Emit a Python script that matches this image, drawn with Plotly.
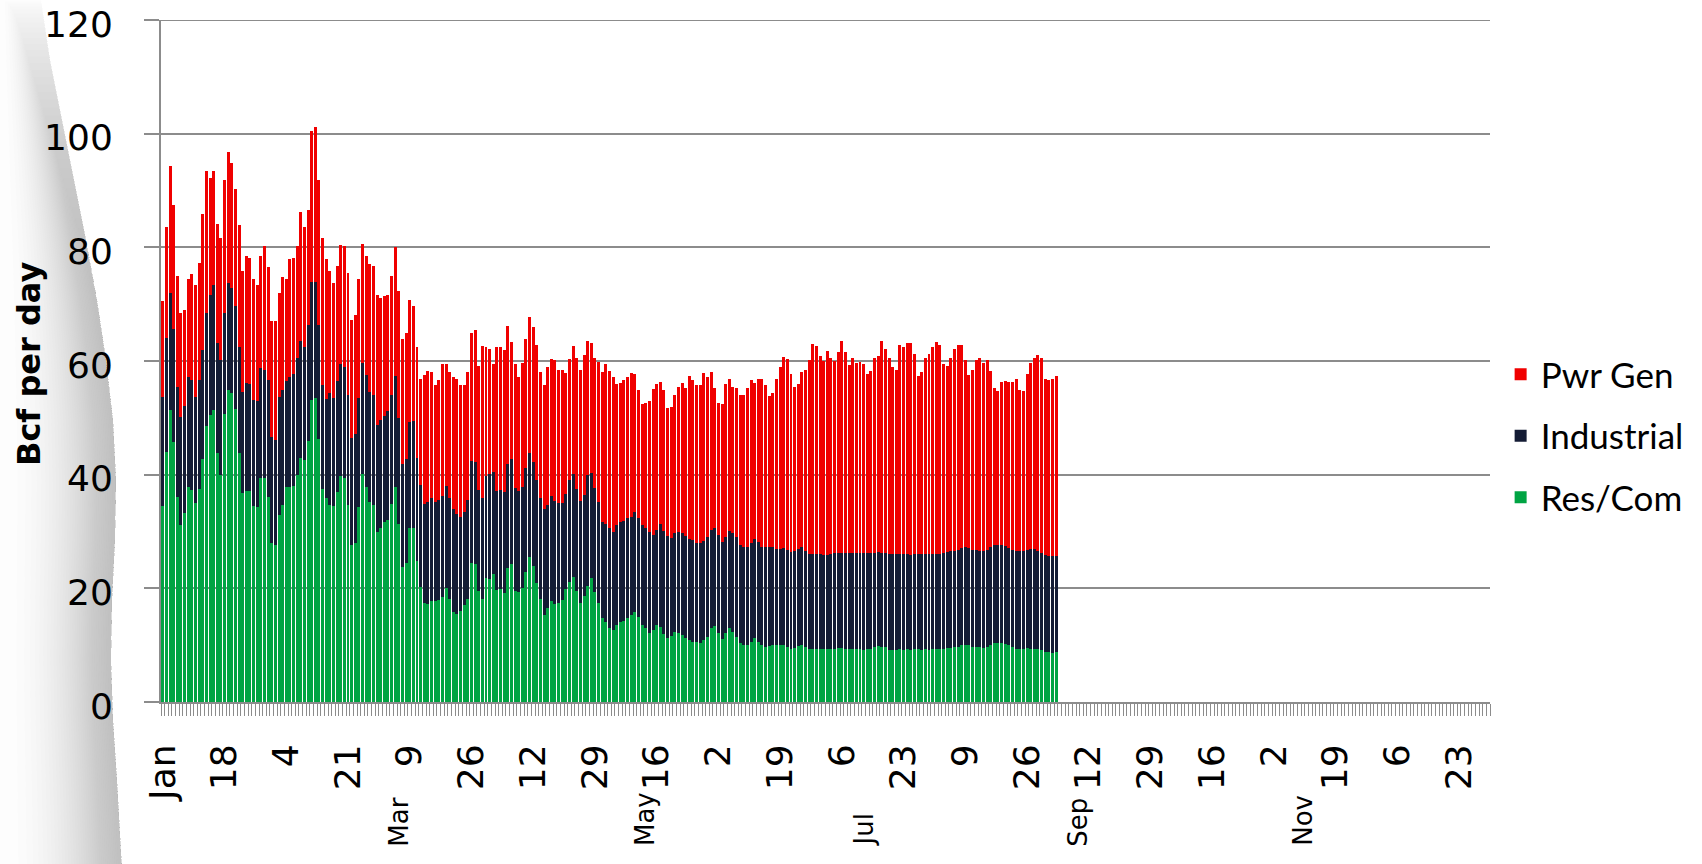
import pandas as pd
import plotly.graph_objects as go

# ---------------- data (Bcf per day, daily, 2012) ----------------
start_date = "2012-01-01"

res_com = [
    34.5, 44.0, 51.4, 45.8, 36.1, 31.2, 33.2, 37.9, 37.3, 35.0,
    37.4, 42.7, 48.5, 50.5, 51.4, 43.8, 40.0, 50.7, 54.9, 54.4,
    51.5, 43.8, 36.8, 37.1, 37.1, 34.5, 34.3, 39.4, 39.4, 36.1,
    27.9, 27.6, 32.9, 34.6, 37.9, 37.9, 38.0, 40.0, 43.0, 42.6,
    46.0, 53.2, 53.5, 46.2, 37.5, 35.9, 34.7, 34.5, 36.9, 39.8,
    39.4, 34.7, 27.7, 28.0, 34.3, 40.1, 37.9, 35.2, 34.6, 30.0,
    30.7, 31.6, 32.1, 34.8, 37.9, 31.3, 23.8, 24.5, 30.6, 30.7,
    24.8, 20.3, 17.5, 17.3, 17.8, 17.8, 18.0, 18.5, 20.0, 18.2,
    15.8, 15.4, 16.1, 17.1, 18.2, 24.5, 24.3, 19.5, 18.2, 21.9,
    21.6, 22.6, 19.7, 19.9, 19.2, 23.6, 24.3, 19.5, 19.4, 20.0,
    22.9, 25.6, 24.0, 20.9, 18.1, 15.3, 16.5, 17.7, 17.3, 17.4,
    17.9, 19.8, 21.2, 22.0, 19.5, 17.5, 18.6, 20.4, 21.8, 19.3,
    17.4, 14.7, 14.0, 13.1, 12.7, 13.6, 14.0, 14.3, 14.7, 15.3,
    15.9, 15.0, 13.6, 13.0, 12.1, 12.7, 13.6, 13.2, 12.0, 11.2,
    11.6, 12.4, 12.1, 11.8, 11.2, 10.9, 10.6, 10.6, 10.4, 10.9,
    11.5, 13.0, 13.3, 12.1, 11.0, 12.1, 13.0, 12.4, 11.5, 10.4,
    10.0, 10.0, 10.6, 11.3, 10.6, 10.0, 9.7, 9.9, 10.0, 10.1,
    10.1, 10.0, 9.7, 9.4, 9.5, 9.9, 10.0, 9.7, 9.4, 9.4,
    9.4, 9.3, 9.3, 9.3, 9.4, 9.4, 9.5, 9.5, 9.4, 9.4,
    9.4, 9.3, 9.3, 9.1, 9.3, 9.4, 9.7, 9.8, 9.7, 9.6,
    9.2, 9.1, 9.1, 9.3, 9.2, 9.3, 9.2, 9.3, 9.3, 9.2,
    9.3, 9.2, 9.3, 9.3, 9.4, 9.4, 9.5, 9.5, 9.6, 9.7,
    10.0, 10.1, 10.0, 9.7, 9.6, 9.6, 9.5, 9.6, 10.0, 10.3,
    10.4, 10.4, 10.2, 10.0, 9.6, 9.4, 9.4, 9.4, 9.5, 9.4,
    9.3, 9.3, 9.1, 8.8, 8.8, 8.7, 8.8,
]

industrial = [
    19.2, 20.0, 20.5, 19.9, 19.4, 19.0, 18.8, 19.2, 19.4, 18.7,
    19.3, 19.2, 19.9, 21.1, 22.0, 19.3, 20.2, 17.7, 18.8, 18.4,
    18.1, 18.7, 17.8, 19.0, 18.9, 18.6, 18.7, 19.3, 19.0, 20.6,
    18.8, 18.5, 20.8, 20.3, 18.5, 19.3, 19.8, 20.5, 20.5, 19.9,
    20.3, 20.7, 20.4, 20.1, 18.3, 17.5, 19.6, 19.0, 19.5, 19.7,
    19.6, 19.4, 18.7, 19.1, 19.2, 19.6, 19.6, 19.4, 19.4, 18.8,
    18.9, 18.7, 19.1, 19.2, 19.5, 18.6, 18.1, 18.3, 18.7, 18.7,
    18.2, 17.9, 17.3, 17.9, 18.1, 17.4, 17.5, 17.7, 18.0, 17.7,
    18.1, 17.7, 16.5, 16.4, 17.3, 17.9, 18.0, 17.8, 17.7, 17.9,
    18.5, 17.8, 17.5, 17.4, 17.8, 18.3, 18.4, 18.1, 17.8, 17.9,
    18.2, 18.3, 18.2, 18.2, 17.8, 18.7, 18.2, 18.6, 18.0, 17.6,
    17.2, 16.8, 17.9, 18.1, 18.0, 17.8, 17.8, 19.5, 18.5, 18.4,
    17.8, 17.0, 17.3, 17.6, 17.2, 17.5, 17.7, 17.6, 17.6, 17.3,
    17.6, 17.3, 17.5, 17.7, 17.9, 16.6, 16.7, 18.1, 18.1, 18.0,
    17.2, 17.4, 17.8, 18.0, 18.0, 17.7, 17.9, 17.3, 17.5, 17.5,
    17.5, 17.3, 17.4, 17.2, 17.2, 17.0, 17.1, 17.3, 17.5, 17.2,
    17.2, 17.2, 17.3, 17.3, 17.6, 17.3, 17.5, 17.3, 17.2, 16.9,
    16.8, 17.1, 17.1, 17.0, 17.0, 17.0, 17.2, 16.8, 16.7, 16.7,
    16.7, 16.7, 16.6, 16.6, 16.7, 16.8, 16.7, 16.7, 16.8, 16.9,
    16.9, 16.9, 17.0, 17.2, 16.9, 16.8, 16.6, 16.6, 16.6, 16.6,
    16.9, 16.9, 17.0, 16.7, 16.8, 16.7, 16.7, 16.7, 16.7, 16.9,
    16.7, 16.8, 16.8, 16.7, 16.7, 16.8, 16.9, 17.0, 17.0, 17.1,
    17.1, 17.1, 17.1, 17.1, 17.1, 17.0, 17.1, 17.2, 17.2, 17.3,
    17.3, 17.2, 17.2, 17.1, 17.1, 17.2, 17.2, 17.2, 17.2, 17.5,
    17.6, 17.3, 17.1, 17.0, 16.9, 17.0, 16.9,
]

pwr_gen = [
    16.8, 19.6, 22.4, 21.7, 19.5, 18.3, 17.0, 17.4, 18.6, 19.6,
    20.5, 23.9, 25.0, 20.6, 20.0, 21.0, 21.5, 23.5, 23.1, 22.1,
    20.6, 21.5, 21.3, 22.4, 22.2, 21.3, 20.3, 19.7, 21.8, 19.9,
    20.3, 20.9, 18.3, 19.8, 18.0, 20.8, 20.4, 19.8, 22.8, 21.0,
    20.3, 26.5, 27.2, 25.6, 25.9, 24.6, 21.6, 20.2, 20.4, 20.9,
    21.2, 21.3, 20.9, 21.0, 20.9, 20.8, 20.9, 22.5, 22.7, 22.9,
    21.4, 21.2, 20.5, 21.0, 22.6, 22.5, 22.0, 22.1, 21.4, 20.3,
    19.4, 18.7, 22.7, 23.1, 22.2, 20.6, 21.2, 23.2, 21.5, 22.1,
    23.2, 23.7, 23.2, 22.3, 22.6, 22.5, 23.1, 21.8, 26.8, 22.6,
    22.1, 19.1, 25.2, 25.1, 25.0, 24.2, 20.7, 21.9, 19.9, 21.7,
    22.8, 23.8, 23.8, 23.7, 22.2, 21.7, 24.2, 24.0, 24.9, 23.5,
    23.4, 21.3, 21.2, 22.6, 23.1, 23.2, 24.6, 23.6, 22.8, 22.9,
    24.7, 26.4, 28.1, 27.5, 27.2, 24.8, 24.5, 24.7, 24.8, 25.3,
    24.3, 22.6, 21.4, 21.9, 23.0, 25.7, 25.7, 25.0, 24.8, 22.6,
    23.1, 24.3, 25.6, 26.4, 26.1, 28.8, 28.2, 27.9, 27.9, 29.5,
    28.2, 27.7, 24.5, 23.3, 24.3, 26.8, 26.8, 25.7, 26.2, 26.4,
    26.8, 28.0, 28.8, 27.5, 28.7, 29.6, 28.6, 26.7, 27.2, 29.8,
    32.1, 33.6, 33.5, 31.4, 28.9, 29.0, 30.9, 32.0, 34.0, 36.9,
    36.6, 34.9, 34.1, 35.9, 34.4, 33.8, 35.3, 37.3, 35.4, 33.0,
    34.2, 33.5, 33.6, 33.1, 31.6, 32.0, 34.3, 34.5, 37.2, 36.0,
    34.5, 32.9, 32.3, 36.8, 36.4, 37.1, 37.3, 35.2, 31.4, 32.0,
    34.6, 35.2, 36.3, 37.3, 36.8, 33.3, 32.7, 34.1, 35.6, 36.1,
    35.8, 33.0, 30.4, 31.6, 33.4, 33.9, 33.0, 33.3, 31.0, 27.7,
    27.0, 28.7, 29.1, 29.2, 29.6, 30.2, 28.3, 28.1, 31.0, 32.7,
    33.7, 34.5, 34.4, 31.0, 31.0, 31.2, 31.7,
]

tick_dates = [
    "2012-01-01", "2012-01-18", "2012-02-04", "2012-02-21", "2012-03-09",
    "2012-03-26", "2012-04-12", "2012-04-29", "2012-05-16", "2012-06-02",
    "2012-06-19", "2012-07-06", "2012-07-23", "2012-08-09", "2012-08-26",
    "2012-09-12", "2012-09-29", "2012-10-16", "2012-11-02", "2012-11-19",
    "2012-12-06", "2012-12-23",
]
tick_labels = ["Jan", "18", "4", "21", "9", "26", "12", "29", "16", "2", "19",
               "6", "23", "9", "26", "12", "29", "16", "2", "19", "6", "23"]

month_labels = ["Mar", "May", "Jul", "Sep", "Nov"]
month_label_dates = ["2012-03-06", "2012-05-13", "2012-07-12", "2012-09-09", "2012-11-10"]

series_names = ["Res/Com", "Industrial", "Pwr Gen"]
series_colors = ["#00a443", "#141c35", "#f00000"]
legend_ranks = [3, 2, 1]

days = pd.date_range(start_date, periods=len(res_com), freq="D")

# ---------------- figure ----------------
W, H = 1702, 864
ML, MT = 161, 20
MR = W - 1490
MB = H - 702
PW, PH = W - ML - MR, H - MT - MB

fig = go.Figure()
for name, vals, col, rk in zip(series_names, [res_com, industrial, pwr_gen],
                               series_colors, legend_ranks):
    fig.add_trace(go.Bar(
        x=days, y=vals, name=name, legendgroup=name, legendrank=rk,
        marker=dict(color=col, line=dict(width=0)),
        hovertemplate="%{x|%b %d}: %{y:.1f}<extra>" + name + "</extra>",
    ))

# month labels (second level of the category axis)
for lab, d in zip(month_labels, month_label_dates):
    fig.add_annotation(
        x=d, xref="x", y=-0.2145, yref="paper", text=lab, showarrow=False,
        textangle=-90, yanchor="bottom", xanchor="center",
        font=dict(family="DejaVu Sans", size=26, color="#000000"),
    )

def px2paper(px, py):
    """page pixel -> paper coordinates"""
    return (px - ML) / PW, (H - MB - py) / PH

# y axis title
tx, ty = px2paper(29, 364)
fig.add_annotation(
    x=tx, xref="paper", y=ty, yref="paper",
    text="<b>Bcf per day</b>", showarrow=False, textangle=-90,
    xanchor="center", yanchor="middle",
    font=dict(family="DejaVu Sans", size=32, color="#000000"),
)

# top gridline (at the plot edge)
fig.add_shape(type="line", xref="paper", x0=0, x1=1, yref="y", y0=120, y1=120,
              line=dict(color="#8c8c8c", width=2), layer="below")

# decorative grey swoosh at left edge (background)
edge = [(0, 41), (60, 50), (120, 62), (180, 74), (240, 86),
        (300, 97), (360, 106), (420, 113), (480, 116), (540, 115),
        (600, 112), (660, 111), (720, 113), (780, 117), (870, 122)]
NB = 36
for k in range(NB):
    s = (k / NB) ** 0.5
    y_start = 0 + 260 * (k / NB) ** 1.5
    top_rx = edge[0][1]
    for (py0, rx0), (py1, rx1) in zip(edge[:-1], edge[1:]):
        if py0 <= y_start <= py1:
            t = (y_start - py0) / (py1 - py0)
            top_rx = rx0 + t * (rx1 - rx0)
            break
    pts_l = [(top_rx * s - 2, y_start)] + \
            [(rx * s - 2, py) for py, rx in edge if py > y_start]
    pts_r = [(rx, py) for py, rx in edge if py > y_start][::-1] + [(top_rx, y_start)]
    pts = [px2paper(x, y) for x, y in pts_l + pts_r]
    path = "M " + " L ".join(f"{x:.5f},{y:.5f}" for x, y in pts) + " Z"
    fig.add_shape(type="path", path=path, xref="paper", yref="paper",
                  fillcolor="#85878c", opacity=0.021, line=dict(width=0),
                  layer="below")

axis_grey = "#8c8c8c"
fig.update_layout(
    width=W, height=H,
    margin=dict(l=ML, r=MR, t=MT, b=MB, autoexpand=False),
    paper_bgcolor="white", plot_bgcolor="rgba(0,0,0,0)",
    barmode="stack", bargap=0.18,
    font=dict(family="DejaVu Sans", color="#000000"),
    showlegend=True,
    legend=dict(
        x=1.008, xanchor="left", y=0.39, yanchor="middle",
        traceorder="grouped", tracegroupgap=13,
        font=dict(family="Lato", size=35, color="#000000"),
        bgcolor="rgba(0,0,0,0)",
    ),
    xaxis=dict(
        type="date", automargin=False,
        range=["2011-12-31 12:00", "2012-12-31 12:00"],
        tickmode="array", tickvals=tick_dates, ticktext=tick_labels,
        tickangle=-90, tickfont=dict(family="DejaVu Sans", size=36),
        ticks="outside", ticklen=12, tickcolor="rgba(0,0,0,0)",
        ticklabelstandoff=14,
        minor=dict(ticks="outside", ticklen=12, tickwidth=1, tickcolor=axis_grey,
                   tickmode="linear", tick0="2011-12-31 12:00", dtick=86400000,
                   showgrid=False),
        showline=True, linecolor=axis_grey, linewidth=2,
        showgrid=False, zeroline=False,
    ),
    yaxis=dict(
        automargin=False,
        range=[0, 120], tickmode="linear", tick0=0, dtick=20,
        tickfont=dict(family="DejaVu Sans", size=36),
        ticks="outside", ticklen=15, tickwidth=2, tickcolor=axis_grey,
        ticklabelstandoff=24, ticklabelshift=4, ticklabeloverflow="allow",
        showline=True, linecolor=axis_grey, linewidth=2,
        showgrid=True, gridcolor=axis_grey, gridwidth=2,
        zeroline=False,
    ),
)

# remove the default 8px page margin so the figure fills the window exactly
fig.write_html(
    "out.html",
    config={"displayModeBar": False},
    post_script="document.body.style.margin='0';document.body.style.overflow='hidden';",
)
